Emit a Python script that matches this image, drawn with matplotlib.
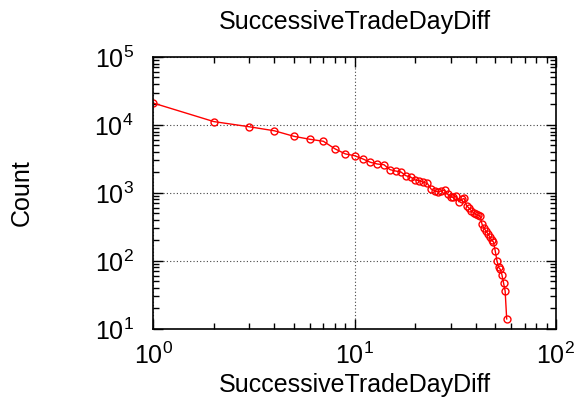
import matplotlib
matplotlib.use("Agg")
import matplotlib.pyplot as plt
from matplotlib.ticker import LogLocator, LogFormatterSciNotation

plt.rcParams['font.family'] = ['Liberation Sans', 'DejaVu Sans']
plt.rcParams['mathtext.fontset'] = 'custom'
plt.rcParams['mathtext.rm'] = 'Liberation Sans'
plt.rcParams['mathtext.it'] = 'Liberation Sans'
plt.rcParams['mathtext.default'] = 'regular'

title = "SuccessiveTradeDayDiff"
xlabel = "SuccessiveTradeDayDiff"
ylabel = "Count"

day_diff = list(range(1, 58))
counts = [21000, 11200, 9400, 8200, 6800, 6150, 5750, 4450, 3750, 3530,
          3160, 2820, 2660, 2600, 2200, 2100, 2030, 1790, 1710, 1550,
          1510, 1430, 1380, 1140, 1080, 1030, 1070, 1100, 960, 870,
          860, 900, 740, 800, 830, 650, 600, 550, 510, 485,
          470, 460, 345, 300, 275, 250, 225, 200, 190, 140,
          100, 80, 75, 62, 47, 36, 14]

fig = plt.figure(figsize=(5.76, 4.04), dpi=100)
ax = fig.add_axes([0.266, 0.186, 0.699, 0.673])
ax.plot(day_diff, counts, color='red', lw=1.0, marker='o', ms=5,
        mfc='none', mec='red', mew=1.0)
ax.set_xscale('log')
ax.set_yscale('log')
ax.set_xlim(1, 100)
ax.set_ylim(10, 1e5)
ax.xaxis.set_major_locator(LogLocator(base=10, numticks=10))
ax.yaxis.set_major_locator(LogLocator(base=10, numticks=10))
ax.xaxis.set_major_formatter(LogFormatterSciNotation())
ax.yaxis.set_major_formatter(LogFormatterSciNotation())
ax.grid(True, which='major', color='#444444', linestyle=(0, (1, 2)), lw=0.8)
ax.tick_params(which='both', direction='in', top=True, right=True, labelsize=18, width=1.0)
ax.tick_params(axis='x', which='major', length=7, pad=10)
ax.tick_params(axis='y', which='major', length=7, pad=14)
ax.tick_params(which='minor', length=4)
for s in ax.spines.values():
    s.set_linewidth(1.2)
ax.set_title(title, fontsize=18, pad=20)
ax.set_xlabel(xlabel, fontsize=18, labelpad=3)
ax.set_ylabel(ylabel, fontsize=18, labelpad=44)
fig.savefig("out.png", dpi=100)
